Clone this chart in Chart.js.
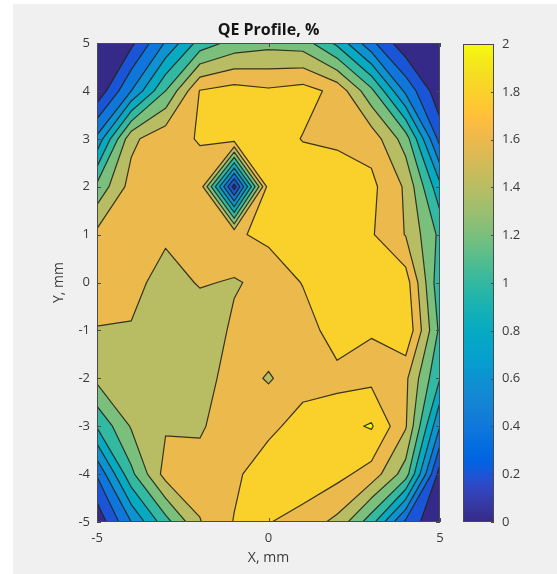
<!DOCTYPE html>
<html>
<head>
<meta charset="utf-8">
<title>QE Profile</title>
<script src="https://cdn.jsdelivr.net/npm/chart.js@4.4.1/dist/chart.umd.min.js"></script>
<style>
  html, body { margin: 0; padding: 0; background: #fff; }
  #page { position: relative; width: 557px; height: 574px; overflow: hidden; }
  #figBg { position: absolute; left: 13px; top: 4px; right: 0; bottom: 0; background: #f0f0f0; }
  #qeMap { position: absolute; left: 0; top: 0; }
  #qeBar { position: absolute; left: 440px; top: 0; }
</style>
</head>
<body>
<div id="page">
  <div id="figBg"></div>
  <canvas id="qeMap" width="557" height="574"></canvas>
  <canvas id="qeBar" width="117" height="574"></canvas>
</div>
<script>
// measurement grid, mm
const xMm = [-5, -4, -3, -2, -1, 0, 1, 2, 3, 4, 5];
const yMm = [5, 4, 3, 2, 1, 0, -1, -2, -3, -4, -5];

// QE in %, one row per yMm value, columns follow xMm
const qe = [
  [0.00, 0.15, 0.62, 1.08, 1.27, 1.33, 1.30, 0.95, 0.45, 0.05, 0.00],
  [0.05, 0.60, 1.20, 1.81, 1.88, 1.83, 1.88, 1.74, 1.25, 0.55, 0.05],
  [0.65, 1.55, 1.75, 1.81, 1.90, 1.92, 1.79, 1.76, 1.72, 1.30, 0.32],
  [1.25, 1.68, 1.72, 1.74, 0.10, 1.90, 1.95, 1.93, 1.85, 1.57, 0.85],
  [1.65, 1.72, 1.64, 1.70, 1.77, 1.85, 1.92, 1.95, 1.82, 1.59, 1.15],
  [1.70, 1.68, 1.50, 1.62, 1.58, 1.66, 1.81, 1.93, 1.95, 1.90, 1.05],
  [1.59, 1.58, 1.50, 1.45, 1.64, 1.72, 1.70, 1.90, 1.81, 1.98, 1.15],
  [1.45, 1.55, 1.52, 1.50, 1.70, 1.58, 1.72, 1.74, 1.75, 1.64, 1.00],
  [1.02, 1.42, 1.58, 1.57, 1.74, 1.75, 1.88, 1.93, 2.02, 1.62, 0.60],
  [0.42, 1.15, 1.68, 1.69, 1.76, 1.92, 1.95, 1.86, 1.72, 1.30, 0.10],
  [0.05, 0.60, 1.12, 1.59, 1.81, 1.81, 1.71, 1.55, 1.08, 0.35, 0.00]
];

// contour levels and colour limits
const levels = [0.2, 0.4, 0.6, 0.8, 1.0, 1.2, 1.4, 1.6, 1.8, 2.0];
const cMin = 0;
const cMax = 2;

// parula colormap (64 entries)
const parula = [
  [0.2081,0.1663,0.5292],[0.2116,0.1898,0.5777],[0.2123,0.2138,0.6270],[0.2081,0.2386,0.6771],
  [0.1959,0.2645,0.7279],[0.1707,0.2919,0.7792],[0.1253,0.3242,0.8303],[0.0591,0.3598,0.8683],
  [0.0117,0.3875,0.8820],[0.0060,0.4086,0.8828],[0.0165,0.4266,0.8786],[0.0329,0.4430,0.8720],
  [0.0498,0.4586,0.8641],[0.0629,0.4737,0.8554],[0.0723,0.4887,0.8467],[0.0779,0.5040,0.8384],
  [0.0793,0.5200,0.8312],[0.0749,0.5375,0.8263],[0.0641,0.5570,0.8240],[0.0488,0.5772,0.8228],
  [0.0343,0.5966,0.8199],[0.0265,0.6137,0.8135],[0.0239,0.6287,0.8038],[0.0231,0.6418,0.7913],
  [0.0228,0.6535,0.7768],[0.0267,0.6642,0.7607],[0.0384,0.6743,0.7436],[0.0590,0.6838,0.7254],
  [0.0843,0.6928,0.7062],[0.1133,0.7015,0.6859],[0.1453,0.7098,0.6646],[0.1801,0.7177,0.6424],
  [0.2178,0.7250,0.6193],[0.2586,0.7317,0.5954],[0.3022,0.7376,0.5712],[0.3482,0.7424,0.5473],
  [0.3953,0.7459,0.5244],[0.4420,0.7481,0.5033],[0.4871,0.7491,0.4840],[0.5300,0.7491,0.4661],
  [0.5709,0.7485,0.4494],[0.6099,0.7473,0.4337],[0.6473,0.7456,0.4188],[0.6834,0.7435,0.4044],
  [0.7184,0.7411,0.3905],[0.7525,0.7384,0.3768],[0.7858,0.7356,0.3633],[0.8185,0.7327,0.3498],
  [0.8507,0.7299,0.3360],[0.8824,0.7274,0.3217],[0.9139,0.7258,0.3063],[0.9450,0.7261,0.2886],
  [0.9739,0.7314,0.2666],[0.9938,0.7455,0.2403],[0.9990,0.7653,0.2164],[0.9955,0.7861,0.1967],
  [0.9880,0.8066,0.1794],[0.9789,0.8271,0.1633],[0.9697,0.8481,0.1475],[0.9626,0.8705,0.1309],
  [0.9589,0.8949,0.1132],[0.9598,0.9218,0.0948],[0.9661,0.9514,0.0755],[0.9763,0.9831,0.0538]
];

const textColor = '#3a3a3a';
const fontFamily = '"Open Sans", "Liberation Sans", sans-serif';

function parulaAt(v) {
  const t = Math.min(1, Math.max(0, (v - cMin) / (cMax - cMin)));
  const f = t * (parula.length - 1);
  const i = Math.floor(f);
  const k = Math.min(i + 1, parula.length - 1);
  const w = f - i;
  const c = parula[i].map((a, n) => Math.round((a + (parula[k][n] - a) * w) * 255));
  return 'rgb(' + c[0] + ',' + c[1] + ',' + c[2] + ')';
}

// region of one grid cell where qe >= level (marching squares, saddle by cell mean)
function cellPieces(r, c, level) {
  const idx = [[r, c], [r, c + 1], [r + 1, c + 1], [r + 1, c]];
  const pts = idx.map(([rr, cc]) => ({ x: xMm[cc], y: yMm[rr], v: qe[rr][cc] }));
  const inside = pts.map(p => p.v >= level);
  const nIn = inside.filter(Boolean).length;
  if (nIn === 0) return [];

  const cut = (a, b) => {
    const p = pts[a], q = pts[b];
    const t = (level - p.v) / (q.v - p.v);
    return { x: p.x + t * (q.x - p.x), y: p.y + t * (q.y - p.y), cut: true };
  };

  const saddle = nIn === 2 && inside[0] === inside[2];
  const mean = (pts[0].v + pts[1].v + pts[2].v + pts[3].v) / 4;
  if (saddle && mean < level) {
    const pieces = [];
    for (let k = 0; k < 4; k++) {
      if (!inside[k]) continue;
      pieces.push([{ x: pts[k].x, y: pts[k].y, cut: false }, cut(k, (k + 1) % 4), cut((k + 3) % 4, k)]);
    }
    return pieces;
  }

  const poly = [];
  for (let k = 0; k < 4; k++) {
    const n = (k + 1) % 4;
    if (inside[k]) poly.push({ x: pts[k].x, y: pts[k].y, cut: false });
    if (inside[k] !== inside[n]) poly.push(cut(k, n));
  }
  return [poly];
}

const contourFill = {
  id: 'contourFill',
  beforeDatasetsDraw(chart) {
    const { ctx, chartArea: a, scales: { x, y } } = chart;
    const px = p => [x.getPixelForValue(p.x), y.getPixelForValue(p.y)];

    ctx.save();
    ctx.beginPath();
    ctx.rect(a.left, a.top, a.right - a.left, a.bottom - a.top);
    ctx.clip();

    // lowest band covers the whole map
    ctx.fillStyle = parulaAt(cMin);
    ctx.fillRect(a.left, a.top, a.right - a.left, a.bottom - a.top);

    const lines = new Path2D();
    levels.forEach(level => {
      const region = new Path2D();
      for (let r = 0; r < yMm.length - 1; r++) {
        for (let c = 0; c < xMm.length - 1; c++) {
          cellPieces(r, c, level).forEach(poly => {
            poly.forEach((p, i) => {
              const [X, Y] = px(p);
              if (i === 0) region.moveTo(X, Y); else region.lineTo(X, Y);
            });
            region.closePath();
            poly.forEach((p, i) => {
              const q = poly[(i + 1) % poly.length];
              if (p.cut && q.cut) {
                const [X1, Y1] = px(p);
                const [X2, Y2] = px(q);
                lines.moveTo(X1, Y1);
                lines.lineTo(X2, Y2);
              }
            });
          });
        }
      }
      ctx.fillStyle = parulaAt(level);
      ctx.fill(region);
    });

    ctx.strokeStyle = 'rgba(35,35,25,0.9)';
    ctx.lineWidth = 1.2;
    ctx.lineJoin = 'round';
    ctx.lineCap = 'round';
    ctx.stroke(lines);
    ctx.restore();

    // axes box with inward ticks
    ctx.save();
    ctx.strokeStyle = '#4a4a4a';
    ctx.lineWidth = 1;
    ctx.strokeRect(a.left + 0.5, a.top + 0.5, a.right - a.left - 1, a.bottom - a.top - 1);
    ctx.beginPath();
    x.ticks.forEach(t => {
      const X = Math.round(x.getPixelForValue(t.value)) + 0.5;
      ctx.moveTo(X, a.bottom); ctx.lineTo(X, a.bottom - 4);
      ctx.moveTo(X, a.top); ctx.lineTo(X, a.top + 4);
    });
    y.ticks.forEach(t => {
      const Y = Math.round(y.getPixelForValue(t.value)) + 0.5;
      ctx.moveTo(a.left, Y); ctx.lineTo(a.left + 4, Y);
      ctx.moveTo(a.right, Y); ctx.lineTo(a.right - 4, Y);
    });
    ctx.stroke();
    ctx.restore();
  }
};

new Chart(document.getElementById('qeMap'), {
  type: 'scatter',
  data: { datasets: [] },
  options: {
    responsive: false,
    animation: false,
    layout: { padding: { top: 0, right: 117, bottom: 0, left: 0 } },
    plugins: {
      legend: { display: false },
      tooltip: { enabled: false },
      title: {
        display: true,
        text: 'QE Profile, %',
        fullSize: false,
        color: '#151515',
        font: { family: fontFamily, size: 16, weight: 'bold', lineHeight: 1.2 },
        padding: { top: 20.5, bottom: 3.3 }
      }
    },
    scales: {
      x: {
        type: 'linear', min: -5, max: 5,
        ticks: { stepSize: 5, padding: 8, color: textColor, font: { family: fontFamily, size: 13 } },
        grid: { display: false, drawTicks: false },
        border: { display: false },
        title: { display: true, text: 'X, mm', color: textColor, font: { family: fontFamily, size: 14 }, padding: { top: 0, bottom: 8 } },
        afterFit: s => { s.height = 52; }
      },
      y: {
        type: 'linear', min: -5, max: 5,
        ticks: { stepSize: 1, padding: 7, color: textColor, font: { family: fontFamily, size: 13 } },
        grid: { display: false, drawTicks: false },
        border: { display: false },
        title: { display: true, text: 'Y, mm', color: textColor, font: { family: fontFamily, size: 14 }, padding: { top: 51, bottom: 0 } },
        afterFit: s => { s.width = 97; }
      }
    }
  },
  plugins: [contourFill]
});

// colour bar
function barGradient(context) {
  const area = context.chart.chartArea;
  if (!area) return parulaAt(cMax);
  const g = context.chart.ctx.createLinearGradient(0, area.bottom, 0, area.top);
  parula.forEach((c, i) => {
    g.addColorStop(i / (parula.length - 1), 'rgb(' + c.map(v => Math.round(v * 255)).join(',') + ')');
  });
  return g;
}

const barTicks = {
  id: 'barTicks',
  afterDatasetsDraw(chart) {
    const { ctx, chartArea: a, scales: { y } } = chart;
    ctx.save();
    ctx.strokeStyle = '#4a4a4a';
    ctx.lineWidth = 1;
    ctx.beginPath();
    y.ticks.forEach(t => {
      const Y = Math.round(y.getPixelForValue(t.value)) + 0.5;
      ctx.moveTo(a.right, Y); ctx.lineTo(a.right - 3, Y);
    });
    ctx.stroke();
    ctx.strokeRect(a.left + 0.5, a.top + 0.5, a.right - a.left - 1, a.bottom - a.top - 1);
    ctx.restore();
  }
};

new Chart(document.getElementById('qeBar'), {
  type: 'bar',
  data: {
    labels: ['QE'],
    datasets: [{
      data: [[cMin, cMax]],
      backgroundColor: barGradient,
      borderWidth: 0,
      barPercentage: 1,
      categoryPercentage: 1
    }]
  },
  options: {
    responsive: false,
    animation: false,
    layout: { padding: { top: 44, right: 0, bottom: 52, left: 23 } },
    plugins: { legend: { display: false }, tooltip: { enabled: false } },
    scales: {
      x: { display: false },
      y: {
        position: 'right', min: cMin, max: cMax,
        ticks: {
          stepSize: 0.2, padding: 8, color: textColor, font: { family: fontFamily, size: 13 },
          callback: v => String(Math.round(v * 10) / 10)
        },
        grid: { display: false, drawTicks: false },
        border: { display: false },
        afterFit: s => { s.width = 63; }
      }
    }
  },
  plugins: [barTicks]
});
</script>
</body>
</html>
